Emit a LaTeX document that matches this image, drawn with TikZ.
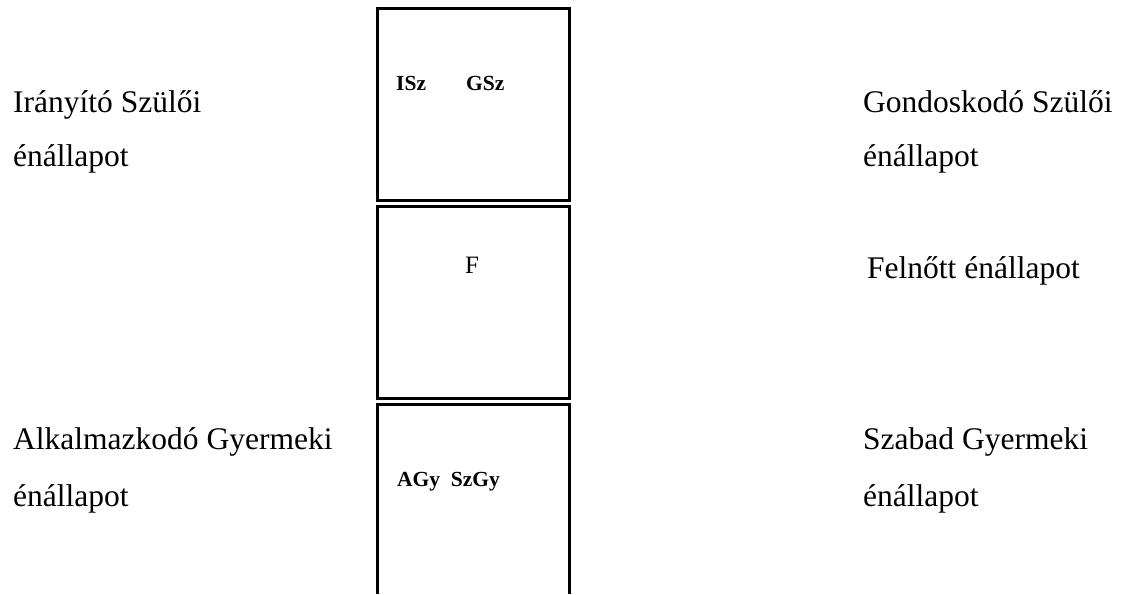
\documentclass[tikz,border=0pt]{standalone}
\usepackage{fontspec}
\setmainfont{Liberation Serif}
\tikzset{
  frame/.style={draw=black, line width=3pt, line join=miter},
  label/.style={anchor=base west, inner sep=0pt, font=\fontsize{31.5}{38}\selectfont},
  code/.style={anchor=base west, inner sep=0pt, font=\fontsize{21.5}{26}\selectfont\bfseries},
  plain/.style={anchor=base west, inner sep=0pt, font=\fontsize{25}{30}\selectfont}
}
\begin{document}
\begin{tikzpicture}[x=1pt, y=-1pt]
  \useasboundingbox (0,0) rectangle (1121,594);
  \fill[white] (0,0) rectangle (1121,594);

  % three stacked boxes, the lowest one open at the bottom
  \draw[frame] (377,9) rectangle (569,200);
  \draw[frame] (377,206) rectangle (569,398);
  \draw[frame] (377,594) -- (377,404) -- (569,404) -- (569,594);

  % abbreviations inside the boxes
  \node[code] (isz) at (396,90) {ISz};
  \node[code] (gsz) at (466,90) {GSz};
  \node[plain] (f) at (465,273) {F};
  \node[code] (agy) at (397,486) {AGy\ \ SzGy};

  % left-hand descriptions
  \node[label] (isz1) at (13,112) {Irányító Szülői};
  \node[label] (isz2) at (13,166) {énállapot};
  \node[label] (agy1) at (13,449) {Alkalmazkodó Gyermeki};
  \node[label] (agy2) at (13,506) {énállapot};

  % right-hand descriptions
  \node[label] (gsz1) at (863,112) {Gondoskodó Szülői};
  \node[label] (gsz2) at (863,166) {énállapot};
  \node[label] (f1) at (867,278) {Felnőtt énállapot};
  \node[label] (szgy1) at (863,449) {Szabad Gyermeki};
  \node[label] (szgy2) at (863,506) {énállapot};
\end{tikzpicture}
\end{document}
